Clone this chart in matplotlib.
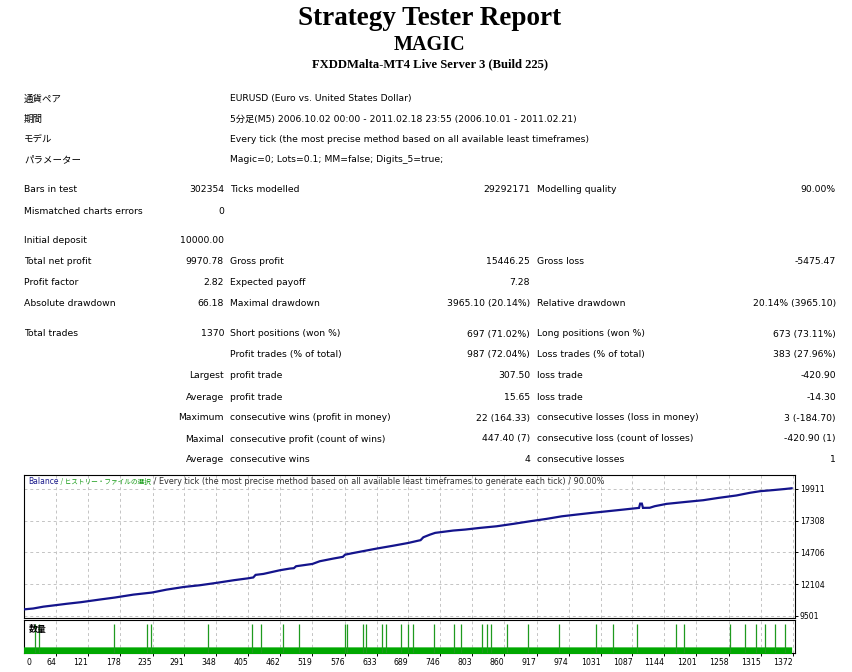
import matplotlib
matplotlib.use("Agg")
import matplotlib.pyplot as plt
import numpy as np

# ---------------- data ----------------
report_title = "Strategy Tester Report"
expert_name = "MAGIC"
server_name = "FXDDMalta-MT4 Live Server 3 (Build 225)"

info_labels = ["通貨ペア", "期間", "モデル", "パラメーター"]
info_values = [
    "EURUSD (Euro vs. United States Dollar)",
    "5分足(M5) 2006.10.02 00:00 - 2011.02.18 23:55 (2006.10.01 - 2011.02.21)",
    "Every tick (the most precise method based on all available least timeframes)",
    "Magic=0; Lots=0.1; MM=false; Digits_5=true;",
]

stat_labels_a = ["Bars in test", "Mismatched charts errors", "Initial deposit", "Total net profit",
                 "Profit factor", "Absolute drawdown", "Total trades", "", "", "", "", "", ""]
stat_values_a = ["302354", "0", "10000.00", "9970.78", "2.82", "66.18", "1370", "",
                 "Largest", "Average", "Maximum", "Maximal", "Average"]
stat_labels_b = ["Ticks modelled", "", "", "Gross profit", "Expected payoff", "Maximal drawdown",
                 "Short positions (won %)", "Profit trades (% of total)", "profit trade", "profit trade",
                 "consecutive wins (profit in money)", "consecutive profit (count of wins)", "consecutive wins"]
stat_values_b = ["29292171", "", "", "15446.25", "7.28", "3965.10 (20.14%)", "697 (71.02%)",
                 "987 (72.04%)", "307.50", "15.65", "22 (164.33)", "447.40 (7)", "4"]
stat_labels_c = ["Modelling quality", "", "", "Gross loss", "", "Relative drawdown",
                 "Long positions (won %)", "Loss trades (% of total)", "loss trade", "loss trade",
                 "consecutive losses (loss in money)", "consecutive loss (count of losses)", "consecutive losses"]
stat_values_c = ["90.00%", "", "", "-5475.47", "", "20.14% (3965.10)", "673 (73.11%)",
                 "383 (27.96%)", "-420.90", "-14.30", "3 (-184.70)", "-420.90 (1)", "1"]

# balance curve (trade number, balance)
balance_trades = [0, 23, 41, 64, 83, 108, 142, 168, 201, 234, 260, 291, 319, 348, 379, 405, 414,
                  418, 432, 461, 479, 486, 490, 519, 532, 556, 573, 577, 592, 633, 663, 689, 707,
                  711, 716, 728, 737, 769, 790, 817, 846, 876, 905, 935, 962, 988, 1015, 1042, 1071,
                  1099, 1101, 1104, 1106, 1118, 1127, 1148, 1184, 1213, 1240, 1272, 1296, 1314,
                  1337, 1358, 1370]
balance_values = [10000, 10100, 10250, 10380, 10490, 10620, 10840, 11000, 11240, 11410, 11650, 11870,
                  12010, 12200, 12420, 12580, 12650, 12860, 12940, 13240, 13380, 13410, 13570, 13760,
                  13980, 14200, 14340, 14520, 14660, 15020, 15260, 15480, 15670, 15710, 15950, 16170,
                  16310, 16500, 16580, 16720, 16850, 17050, 17260, 17460, 17670, 17810, 17950, 18080,
                  18220, 18360, 18710, 18710, 18360, 18370, 18500, 18690, 18860, 18990, 19180, 19380,
                  19600, 19730, 19820, 19910, 19970.78]

total_trades = 1370
base_lots = 0.1
spike_lots = 0.2
spike_trades = [27, 34, 167, 226, 233, 334, 412, 428, 467, 496, 577, 581, 608, 615, 643, 650, 677,
                689, 698, 734, 771, 782, 821, 829, 836, 865, 901, 956, 1022, 1052, 1096, 1165, 1179,
                1261, 1288, 1306, 1322, 1341, 1358]

x_tick_values = [64, 121, 178, 235, 291, 348, 405, 462, 519, 576, 633, 689, 746, 803, 860, 917,
                 974, 1031, 1087, 1144, 1201, 1258, 1315, 1372]
y_tick_values = [9501, 12104, 14706, 17308, 19911]

chart_caption_a = "Balance"
chart_caption_b = " / ヒストリー・ファイルの選択"
chart_caption_c = " / Every tick (the most precise method based on all available least timeframes to generate each tick) / 90.00%"
volume_label = "数量"

# ---------------- layout ----------------
W, H = 853, 672
fig = plt.figure(figsize=(W / 100, H / 100), dpi=100)
fig.patch.set_facecolor("white")

FAM = ["DejaVu Sans", "Noto Sans CJK JP"]
JFAM = ["Noto Sans CJK JP", "DejaVu Sans"]
SERIF = ["Liberation Serif", "DejaVu Serif"]


def fx(x):
    return x / W


def fy(y):
    return 1 - y / H


fig.text(fx(430), fy(25), report_title, family=SERIF, weight="bold", size=19.5,
         ha="center", va="baseline")
fig.text(fx(430), fy(50), expert_name, family=SERIF, weight="bold", size=14.5,
         ha="center", va="baseline")
fig.text(fx(429.5), fy(67), server_name, family=SERIF, weight="bold", size=9.1,
         ha="center", va="baseline")

FS = 6.7
info_y = [99, 119, 139, 160]
for yy, lab, val in zip(info_y, info_labels, info_values):
    fig.text(fx(24), fy(yy), lab, family=JFAM, size=6.8, ha="left", va="center")
    fig.text(fx(230), fy(yy), val, family=FAM, size=FS, ha="left", va="center")

stat_y = [190, 211, 241, 262, 283, 304, 334, 355, 376, 397, 418, 439, 460]
for i, yy in enumerate(stat_y):
    fig.text(fx(24), fy(yy), stat_labels_a[i], family=FAM, size=FS, ha="left", va="center")
    fig.text(fx(224), fy(yy), stat_values_a[i], family=FAM, size=FS, ha="right", va="center")
    fig.text(fx(230), fy(yy), stat_labels_b[i], family=FAM, size=FS, ha="left", va="center")
    fig.text(fx(530), fy(yy), stat_values_b[i], family=FAM, size=FS, ha="right", va="center")
    fig.text(fx(537), fy(yy), stat_labels_c[i], family=FAM, size=FS, ha="left", va="center")
    fig.text(fx(836), fy(yy), stat_values_c[i], family=FAM, size=FS, ha="right", va="center")

# chart panels
left, right = 24, 795
ax1 = fig.add_axes([fx(left), fy(618.3), (right - left) / W, (618.3 - 475) / H])
ax2 = fig.add_axes([fx(left), fy(653.3), (right - left) / W, (653.3 - 620) / H])

xlim = (6.75, 1376)
grid_kw = dict(color="#c4c4c4", linestyle=(0, (3, 3)), linewidth=0.7)

# balance
ax1.plot(balance_trades, balance_values, color="#14148c", linewidth=1.6,
         solid_joinstyle="miter", zorder=3)
ax1.set_xlim(*xlim)
ax1.set_ylim(9296, 21060)
ax1.set_xticks(x_tick_values)
ax1.set_yticks(y_tick_values)
ax1.grid(True, **grid_kw)
ax1.set_axisbelow(True)
ax1.tick_params(axis="x", length=0, labelbottom=False)
ax1.yaxis.tick_right()
ax1.tick_params(axis="y", length=2, width=0.7, pad=1.5, labelsize=5.6, labelcolor="black")
for lab in ax1.get_yticklabels():
    lab.set_family(FAM)
for sp in ax1.spines.values():
    sp.set_linewidth(0.8)
    sp.set_color("black")

# volume
trade_ids = np.arange(1, total_trades + 1)
volumes = np.full(total_trades, base_lots)
ax2.fill_between(trade_ids, 0, volumes, step="mid", color="#00a800", linewidth=0, zorder=3)
ax2.vlines(spike_trades, 0, spike_lots, color="#1f9a1f", linewidth=0.9, zorder=3)
ax2.set_xlim(*xlim)
ax2.set_ylim(0.072, 0.2169)
ax2.set_xticks(x_tick_values)
ax2.set_xticklabels([str(v) for v in x_tick_values])
ax2.set_yticks([])
ax2.grid(True, axis="x", **grid_kw)
ax2.set_axisbelow(True)
ax2.tick_params(axis="x", length=2, width=0.7, pad=1.5, labelsize=5.6)
for lab in ax2.get_xticklabels():
    lab.set_ha("right")
    lab.set_family(FAM)
ax2.annotate("0", xy=(0.003, 0), xycoords="axes fraction", xytext=(0, -3.5),
             textcoords="offset points", ha="left", va="top", size=5.6, family=FAM)
for sp in ax2.spines.values():
    sp.set_linewidth(0.8)
    sp.set_color("black")
ax2.text(0.006, 0.72, volume_label, transform=ax2.transAxes, family=JFAM, size=6.4,
         weight="bold", ha="left", va="center", color="black")

# chart caption in three colours
fig.canvas.draw()
renderer = fig.canvas.get_renderer()
cap_y = 0.94
t1 = ax1.text(0.006, cap_y, chart_caption_a, transform=ax1.transAxes, family=FAM, size=5.5,
              color="#1a1a8c", ha="left", va="baseline")
bb = t1.get_window_extent(renderer)
x_next = ax1.transAxes.inverted().transform((bb.x1, bb.y0))[0]
t2 = ax1.text(x_next, cap_y, chart_caption_b, transform=ax1.transAxes, family=JFAM, size=4.8,
              color="#139a13", ha="left", va="baseline")
bb = t2.get_window_extent(renderer)
x_next = ax1.transAxes.inverted().transform((bb.x1, bb.y0))[0]
ax1.text(x_next, cap_y, chart_caption_c, transform=ax1.transAxes, family=FAM, size=5.9,
         color="#303030", ha="left", va="baseline")

fig.savefig("out.png", dpi=100, facecolor="white")
